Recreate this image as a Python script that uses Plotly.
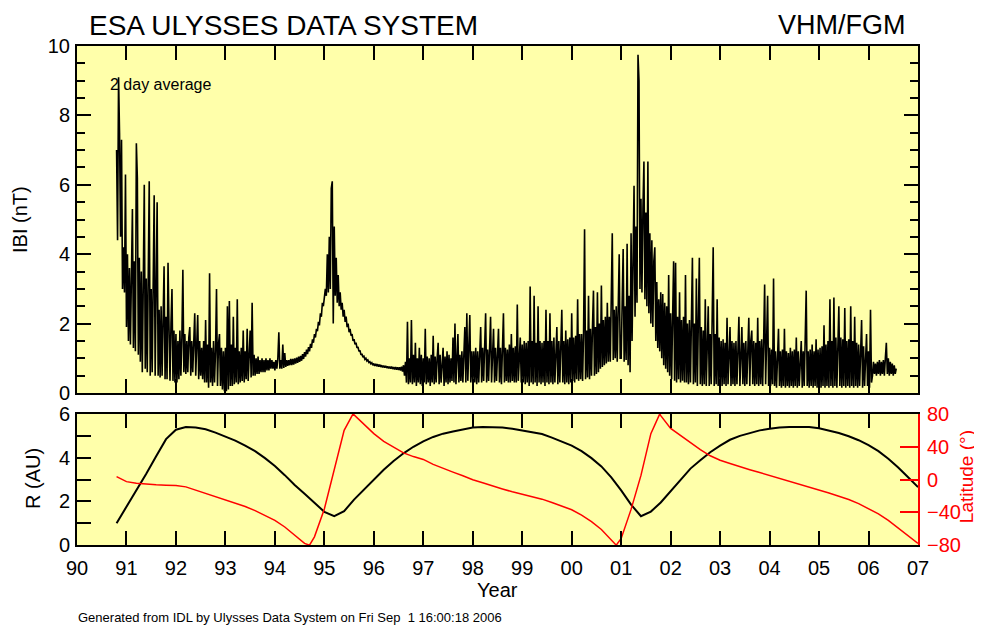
import plotly.graph_objects as go

# ---------------- |B| 2-day averages (nT), sampled every 0.02 yr ----------------
B_START = 1990.80
B_STEP = 0.02
B_1990 = [7.0, 4.4, 9.1, 7.5, 4.5, 7.3, 3.0, 4.2, 2.9, 6.3]
B_1991 = [1.9, 4.0, 1.5, 3.6, 1.4, 4.2, 5.3, 1.3, 3.8, 1.2,
          7.2, 6.2, 1.1, 3.9, 0.9, 3.5, 0.6, 3.2, 6.0, 0.7,
          3.3, 0.6, 2.9, 6.1, 0.5, 3.0, 0.6, 2.7, 5.7, 0.5,
          2.8, 5.5, 0.5, 2.4, 0.45, 2.5, 0.5, 2.1, 3.65, 0.4,
          2.2, 0.4, 3.75, 1.9, 0.35, 2.0, 3.0, 0.35, 1.8, 0.3]
B_1992 = [1.7, 0.3, 1.5, 0.4, 1.8, 0.5, 1.6, 3.55, 0.6, 1.7,
          0.55, 1.5, 0.6, 1.6, 1.9, 0.5, 1.5, 0.6, 1.7, 2.3,
          0.5, 1.4, 2.25, 0.4, 1.5, 0.5, 1.3, 0.4, 1.5, 0.3,
          2.1, 0.3, 1.4, 0.15, 3.45, 0.3, 1.3, 0.2, 1.5, 0.3,
          1.2, 3.0, 0.2, 1.4, 1.7, 0.2, 1.3, 0.1, 1.2, 0.05]
B_1993 = [1.3, 0.05, 2.5, 0.1, 2.65, 0.2, 1.4, 0.2, 2.2, 0.25,
          1.3, 0.3, 2.7, 0.25, 1.2, 0.3, 1.3, 0.35, 1.8, 0.3,
          1.2, 0.4, 1.85, 0.35, 1.1, 1.8, 0.45, 2.6, 0.5, 1.1,
          0.5, 1.0, 0.55, 1.05, 0.55, 0.95, 0.6, 1.0, 0.6, 0.95,
          0.6, 1.0, 0.65, 0.95, 0.65, 1.0, 0.7, 0.95, 0.7, 0.9]
B_1994 = [0.65, 0.95, 0.7, 1.0, 1.75, 0.7, 0.95, 0.7, 1.4, 0.72,
          1.15, 0.75, 0.95, 0.78, 0.95, 0.8, 0.98, 0.8, 0.98, 0.82,
          1.0, 0.85, 1.02, 0.87, 1.05, 0.9, 1.07, 0.93, 1.12, 0.98,
          1.18, 1.05, 1.25, 1.12, 1.32, 1.2, 1.42, 1.3, 1.55, 1.45,
          1.7, 1.6, 1.85, 1.78, 2.05, 1.95, 2.3, 2.2, 2.6, 2.5]
B_1995 = [2.75, 3.0, 2.8, 4.0, 2.9, 4.5, 3.0, 5.9, 6.1, 2.0,
          4.8, 2.8, 3.9, 2.6, 3.4, 2.5, 2.9, 2.4, 2.6, 2.2,
          2.4, 2.05, 2.2, 1.9, 2.0, 1.75, 1.85, 1.65, 1.7, 1.5,
          1.55, 1.4, 1.45, 1.3, 1.33, 1.2, 1.23, 1.1, 1.13, 1.03,
          1.06, 0.97, 1.0, 0.92, 0.95, 0.88, 0.9, 0.84, 0.87, 0.8]
B_1996 = [0.85, 0.78, 0.84, 0.77, 0.83, 0.76, 0.82, 0.75, 0.8, 0.74,
          0.79, 0.73, 0.78, 0.72, 0.77, 0.71, 0.76, 0.7, 0.76, 0.69,
          0.75, 0.68, 0.75, 0.67, 0.74, 0.66, 0.74, 0.65, 0.76, 0.62,
          0.8, 0.5, 0.9, 0.3, 2.05, 0.25, 1.0, 0.3, 2.1, 0.25,
          1.1, 0.3, 1.45, 0.2, 1.0, 0.3, 1.3, 0.25, 1.1, 0.2]
B_1997 = [1.0, 0.3, 1.85, 0.25, 1.05, 0.3, 1.0, 0.2, 1.1, 0.3,
          1.65, 0.25, 1.05, 0.3, 1.0, 1.45, 0.25, 1.1, 0.3, 1.0,
          1.3, 0.2, 1.05, 0.3, 1.2, 0.25, 1.1, 0.3, 1.0, 0.35,
          1.6, 0.3, 2.0, 0.25, 1.15, 1.7, 0.3, 1.1, 0.35, 1.2,
          0.3, 1.1, 1.9, 0.3, 2.3, 0.35, 1.2, 2.25, 0.3, 1.2]
B_1998 = [0.35, 1.2, 0.3, 1.3, 0.25, 1.2, 0.3, 1.25, 1.9, 0.3,
          1.3, 0.35, 1.2, 2.3, 0.3, 1.25, 0.35, 1.3, 2.2, 0.3,
          1.2, 1.85, 0.3, 1.3, 0.35, 1.25, 1.85, 0.3, 1.3, 0.25,
          1.35, 2.3, 0.3, 1.3, 0.35, 1.25, 0.3, 1.4, 0.3, 1.7,
          0.35, 1.3, 0.3, 1.35, 0.3, 2.55, 0.35, 1.3, 1.6, 0.3]
B_1999 = [1.4, 0.3, 1.5, 0.25, 1.45, 0.3, 1.5, 0.2, 3.07, 0.3,
          1.5, 0.25, 2.8, 0.3, 1.45, 0.2, 2.5, 0.3, 1.5, 0.25,
          1.45, 0.3, 1.5, 0.2, 2.4, 0.3, 1.5, 0.25, 2.3, 0.3,
          1.5, 0.25, 1.6, 0.3, 1.45, 1.9, 0.25, 1.5, 0.3, 1.55,
          2.4, 0.3, 1.5, 0.25, 1.8, 0.3, 1.55, 0.25, 1.6, 0.3]
B_2000 = [2.3, 0.35, 1.6, 0.3, 1.65, 0.4, 2.7, 0.35, 1.7, 0.4,
          1.7, 0.35, 1.75, 4.72, 0.4, 1.8, 0.45, 2.8, 0.4, 1.85,
          0.5, 1.9, 2.95, 0.5, 1.9, 0.55, 2.9, 0.6, 2.0, 0.7,
          3.1, 0.75, 2.1, 0.8, 2.2, 0.85, 2.6, 0.9, 2.2, 0.9,
          2.3, 4.6, 0.95, 2.4, 1.0, 2.5, 0.9, 2.4, 4.0, 1.0]
B_2001 = [1.0, 2.6, 4.15, 0.9, 2.5, 0.95, 4.3, 0.8, 2.8, 0.6,
          4.6, 1.5, 3.8, 5.97, 2.2, 4.8, 2.6, 9.75, 9.0, 3.0,
          5.6, 2.9, 5.3, 6.67, 2.7, 5.2, 2.5, 6.67, 2.3, 4.6,
          2.0, 4.4, 1.9, 3.8, 4.2, 1.5, 3.2, 1.3, 2.7, 1.2,
          2.9, 1.0, 2.85, 0.8, 2.6, 0.7, 2.5, 0.6, 3.4, 0.5]
B_2002 = [2.3, 0.4, 2.2, 3.8, 0.35, 3.75, 0.3, 2.2, 0.4, 2.9,
          0.3, 2.1, 0.35, 2.2, 0.3, 3.4, 0.3, 2.0, 0.25, 2.1,
          0.3, 2.0, 3.9, 0.25, 2.0, 0.3, 3.3, 0.2, 1.9, 3.9,
          0.25, 1.9, 0.2, 1.8, 0.25, 2.7, 0.2, 1.8, 2.5, 0.2,
          1.7, 0.25, 1.8, 4.2, 0.2, 1.7, 0.25, 2.7, 0.2, 1.6]
B_2003 = [0.25, 1.5, 0.2, 1.55, 0.25, 1.45, 0.2, 2.17, 0.25, 1.5,
          1.9, 0.2, 1.5, 0.25, 1.45, 0.2, 1.5, 0.25, 1.45, 2.2,
          0.2, 1.5, 1.9, 0.25, 1.45, 0.2, 1.5, 0.25, 1.45, 2.17,
          0.2, 1.5, 1.8, 0.25, 1.5, 0.2, 1.45, 0.25, 2.17, 0.2,
          1.5, 0.25, 1.55, 0.2, 1.5, 3.13, 0.25, 1.5, 2.8, 0.2]
B_2004 = [1.3, 0.2, 1.25, 0.25, 3.3, 0.2, 1.2, 0.15, 1.25, 1.85,
          0.2, 1.2, 0.15, 1.25, 0.2, 1.85, 0.15, 1.2, 0.2, 1.15,
          0.15, 1.3, 0.2, 1.2, 0.15, 1.25, 0.2, 1.6, 0.15, 1.2,
          0.2, 1.15, 1.5, 0.15, 1.2, 0.2, 1.25, 2.95, 0.2, 1.2,
          0.15, 1.25, 0.2, 1.4, 0.15, 1.2, 0.2, 1.55, 0.15, 1.25]
B_2005 = [0.2, 1.3, 0.15, 1.35, 0.2, 1.95, 0.15, 1.4, 0.2, 1.5,
          0.15, 2.7, 0.2, 1.5, 0.15, 2.75, 0.2, 1.6, 0.15, 1.5,
          2.5, 0.2, 1.6, 0.15, 1.55, 0.2, 2.45, 0.15, 1.5, 0.2,
          1.55, 0.15, 2.5, 0.2, 1.5, 0.15, 2.2, 0.2, 1.45, 0.15,
          1.4, 0.2, 1.4, 2.1, 0.15, 1.35, 0.2, 1.3, 1.7, 0.2]
B_2006 = [1.2, 0.15, 2.4, 0.3, 0.5, 0.9, 0.55, 0.85, 0.5, 0.9,
          0.55, 0.95, 0.5, 0.9, 0.55, 0.95, 0.5, 1.0, 1.45, 0.55,
          1.0, 0.5, 0.9, 0.55, 0.85, 0.5, 0.8, 0.55, 0.7]

B_SERIES = (B_1990 + B_1991 + B_1992 + B_1993 + B_1994 + B_1995 + B_1996 + B_1997 +
            B_1998 + B_1999 + B_2000 + B_2001 + B_2002 + B_2003 + B_2004 + B_2005 + B_2006)
b_years = [round(B_START + B_STEP * i, 3) for i in range(len(B_SERIES))]

# ---------------- Orbit: distance (AU) and heliographic latitude (deg), every 0.2 yr ----
ORBIT_START = 1990.8
ORBIT_STEP = 0.2
R_AU = [1.0,
        1.75, 2.5, 3.26, 4.07, 4.85,
        5.28, 5.4, 5.38, 5.3, 5.15,
        4.97, 4.78, 4.55, 4.3, 3.98,
        3.62, 3.2, 2.75, 2.35, 1.95,
        1.52, 1.32, 1.55, 2.08, 2.55,
        3.0, 3.45, 3.85, 4.2, 4.5,
        4.75, 4.95, 5.1, 5.2, 5.3,
        5.38, 5.4, 5.4, 5.38, 5.32,
        5.25, 5.18, 5.08, 4.92, 4.75,
        4.55, 4.3, 3.98, 3.6, 3.1,
        2.5, 1.85, 1.32, 1.53, 1.95,
        2.45, 3.0, 3.5, 3.88, 4.25,
        4.55, 4.82, 5.0, 5.13, 5.25,
        5.32, 5.38, 5.4, 5.4, 5.4,
        5.35, 5.25, 5.13, 4.98, 4.8,
        4.57, 4.3, 3.95, 3.55, 3.1,
        2.65]
LATITUDE = [3.5,
            -2.6, -4.6, -5.8, -6.5, -7.0,
            -7.3, -9.0, -13.0, -17.0, -21.0,
            -24.8, -28.8, -33.0, -38.0, -43.5,
            -50.0, -58.0, -67.5, -78.0, -70.0,
            -36.0, 12.0, 60.0, 79.0, 68.0,
            56.0, 46.5, 39.0, 32.5, 28.0,
            24.5, 18.5, 13.5, 9.0, 4.5,
            -0.3, -4.0, -8.0, -11.5, -15.0,
            -18.0, -20.5, -24.0, -28.0, -32.5,
            -37.0, -43.5, -51.5, -61.0, -73.0,
            -72.0, -36.5, 5.0, 56.0, 78.0,
            62.5, 53.5, 45.5, 36.5, 29.0,
            23.5, 19.5, 15.5, 12.0, 8.5,
            5.0, 1.5, -2.0, -6.0, -9.5,
            -13.0, -16.5, -20.5, -24.5, -29.5,
            -35.5, -42.0, -50.0, -59.0, -68.5,
            -78.0]
LAT_PEAK_YEARS = [1994.70, 1995.58, 2000.90, 2001.78]
LAT_PEAK_VALUES = [-80.2, 80.2, -80.2, 80.2]

orbit_years = [round(ORBIT_START + ORBIT_STEP * i, 2) for i in range(len(R_AU))]
lat_pairs = sorted(list(zip(orbit_years, LATITUDE)) + list(zip(LAT_PEAK_YEARS, LAT_PEAK_VALUES)))
lat_years = [p[0] for p in lat_pairs]
lat_values = [p[1] for p in lat_pairs]

TICK_YEARS = list(range(1990, 2008))
TICK_LABELS = ["90", "91", "92", "93", "94", "95", "96", "97", "98", "99",
               "00", "01", "02", "03", "04", "05", "06", "07"]

FONT = "Liberation Sans, Arial, Helvetica, sans-serif"
YELLOW = "#FFFFAA"

fig = go.Figure()
fig.add_trace(go.Scatter(x=b_years, y=B_SERIES, mode="lines",
                         line=dict(color="black", width=1.6),
                         xaxis="x", yaxis="y", hoverinfo="skip", showlegend=False))
fig.add_trace(go.Scatter(x=orbit_years, y=R_AU, mode="lines",
                         line=dict(color="black", width=2),
                         xaxis="x2", yaxis="y2", hoverinfo="skip", showlegend=False))
fig.add_trace(go.Scatter(x=lat_years, y=lat_values, mode="lines",
                         line=dict(color="red", width=1.5),
                         xaxis="x2", yaxis="y3", hoverinfo="skip", showlegend=False))

common_x = dict(range=[1990, 2007], tickmode="array", tickvals=TICK_YEARS,
                ticks="inside", ticklen=14, tickwidth=2, tickcolor="black",
                showline=True, linecolor="black", linewidth=2, mirror="ticks",
                showgrid=False, zeroline=False, domain=[0, 1])

# the page body adds an 8 px offset, so the figure is 8 px smaller than the window
fig.update_layout(
    width=974, height=617,
    margin=dict(l=69, r=64, t=38, b=80),
    paper_bgcolor="white", plot_bgcolor=YELLOW,
    font=dict(family=FONT, color="black", size=20),
    showlegend=False,
    xaxis=dict(**common_x, anchor="y", showticklabels=False),
    yaxis=dict(domain=[0.3046, 1], anchor="x", range=[0, 10],
               tickmode="array", tickvals=[0, 2, 4, 6, 8, 10],
               ticks="inside", ticklen=14, tickwidth=2, tickcolor="black",
               minor=dict(dtick=0.5, ticks="inside", ticklen=8, tickwidth=2, tickcolor="black"),
               showline=True, linecolor="black", linewidth=2, mirror="ticks",
               showgrid=False, zeroline=False, ticklabelstandoff=1,
               tickfont=dict(size=20)),
    xaxis2=dict(**common_x, anchor="y2", ticktext=TICK_LABELS,
                tickfont=dict(size=20), ticklabelstandoff=4),
    yaxis2=dict(domain=[0, 0.2625], anchor="x2", range=[0, 6],
                tickmode="array", tickvals=[0, 2, 4, 6],
                ticks="inside", ticklen=14, tickwidth=2, tickcolor="black",
                minor=dict(tickvals=[1, 3, 5], ticks="inside", ticklen=14, tickwidth=2, tickcolor="black"),
                showline=True, linecolor="black", linewidth=2,
                showgrid=False, zeroline=False, ticklabelstandoff=1,
                tickfont=dict(size=20)),
    yaxis3=dict(overlaying="y2", anchor="x2", side="right", range=[-80, 80],
                tickmode="array", tickvals=[-80, -40, 0, 40, 80],
                ticks="inside", ticklen=18, tickwidth=2, tickcolor="red",
                showline=True, linecolor="red", linewidth=2,
                showgrid=False, zeroline=False, ticklabelstandoff=3,
                tickfont=dict(size=20, color="red")),
)

ann = [
    dict(text="ESA ULYSSES DATA SYSTEM", x=0.0119, y=1.042, xanchor="left", yanchor="middle",
         font=dict(size=28)),
    dict(text="VHM/FGM", x=0.9881, y=1.042, xanchor="right", yanchor="middle",
         font=dict(size=27)),
    dict(text="2 day average", x=0.0369, y=0.9238, xanchor="left", yanchor="middle",
         font=dict(size=16)),
    dict(text="IBI (nT)", x=-0.0678, y=0.6533, textangle=-90, xanchor="center", yanchor="middle",
         font=dict(size=20)),
    dict(text="R (AU)", x=-0.0523, y=0.1323, textangle=-90, xanchor="center", yanchor="middle",
         font=dict(size=20)),
    dict(text="Latitude (°)", x=1.0585, y=0.1363, textangle=-90, xanchor="center", yanchor="middle",
         font=dict(size=19, color="red")),
    dict(text="Year", x=0.5, y=-0.0902, xanchor="center", yanchor="middle",
         font=dict(size=20)),
    dict(text="Generated from IDL by Ulysses Data System on Fri Sep  1 16:00:18 2006",
         x=-0.0012, y=-0.1443, xanchor="left", yanchor="middle", font=dict(size=13)),
]
for a in ann:
    a.update(xref="paper", yref="paper", showarrow=False)
fig.update_layout(annotations=ann)

fig.write_html("out.html")
